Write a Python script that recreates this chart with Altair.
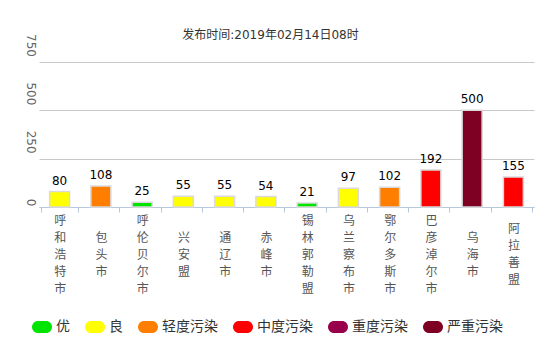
import altair as alt
import pandas as pd

cities = ["呼和浩特市", "包头市", "呼伦贝尔市", "兴安盟", "通辽市", "赤峰市",
          "锡林郭勒盟", "乌兰察布市", "鄂尔多斯市", "巴彦淖尔市", "乌海市", "阿拉善盟"]
aqi = [80, 108, 25, 55, 55, 54, 21, 97, 102, 192, 500, 155]
levels = ["良", "轻度污染", "优", "良", "良", "良", "优", "良", "轻度污染", "中度污染", "严重污染", "中度污染"]

level_names = ["优", "良", "轻度污染", "中度污染", "重度污染", "严重污染"]
level_colors = ["#00e400", "#ffff00", "#ff7e00", "#ff0000", "#99004c", "#7e0023"]
y_ticks = [0, 250, 500, 750]

df = pd.DataFrame({"city": cities, "aqi": aqi, "level": levels})

FONT = "DejaVu Sans, Noto Sans CJK SC"
pill = "M-0.4,-0.6 L0.4,-0.6 A0.6,0.6 0 0 1 0.4,0.6 L-0.4,0.6 A0.6,0.6 0 0 1 -0.4,-0.6 Z"

x = alt.X("city:N", sort=cities, title=None,
          axis=alt.Axis(labelAngle=0, labelExpr="split(datum.label, '')",
                        labelBaseline="middle", labelLineHeight=17,
                        labelPadding={"condition": [
                            {"test": "length(datum.label) == 5", "value": 8},
                            {"test": "length(datum.label) == 4", "value": 16.5}],
                            "value": 25},
                        labelFontSize=12, labelColor="#555", labelFont=FONT,
                        tickBand="extent", tickSize=5, tickColor="#b8c8dc",
                        domainColor="#b8c8dc", grid=False))
y = alt.Y("aqi:Q", title=None, scale=alt.Scale(domain=[0, 750], nice=False),
          axis=alt.Axis(values=y_ticks, labelAngle=90, labelAlign="center",
                        labelBaseline="top", labelPadding=4, tickSize=0,
                        labelOffset={"condition": {"test": "datum.value == 0", "value": -5}, "value": -17},
                        labelFontSize=12, labelColor="#666", labelFont=FONT,
                        domain=False, gridColor="#c8c8c8", gridWidth=1))

bars = alt.Chart(df).mark_bar(size=20, stroke="#dadada", strokeWidth=1.5).encode(
    x=x, y=y,
    color=alt.Color("level:N", title=None,
                    scale=alt.Scale(domain=level_names, range=level_colors),
                    legend=alt.Legend(orient="none", direction="horizontal",
                                      legendX=-7, legendY=255, padding=0,
                                      symbolType=pill, symbolSize=400, symbolStrokeWidth=0,
                                      labelFontSize=14, labelColor="#333", labelFont=FONT,
                                      labelOffset=4, columnPadding=15, symbolOpacity=1)),
)
labels = alt.Chart(df).mark_text(baseline="bottom", dy=-4, fontSize=12, color="#000", font=FONT).encode(
    x=alt.X("city:N", sort=cities), y="aqi:Q", text="aqi:Q")

chart = alt.layer(bars, labels).properties(
    width=495, height=145,
    title=alt.TitleParams("发布时间:2019年02月14日08时", fontSize=12, fontWeight="normal",
                          color="#333", font=FONT, offset=-8, dx=-16),
    autosize="none",
    padding={"left": 39, "top": 62, "right": 12, "bottom": 139},
).configure_view(stroke=None)

chart.save("out.html", embed_options={"renderer": "svg", "actions": False})
